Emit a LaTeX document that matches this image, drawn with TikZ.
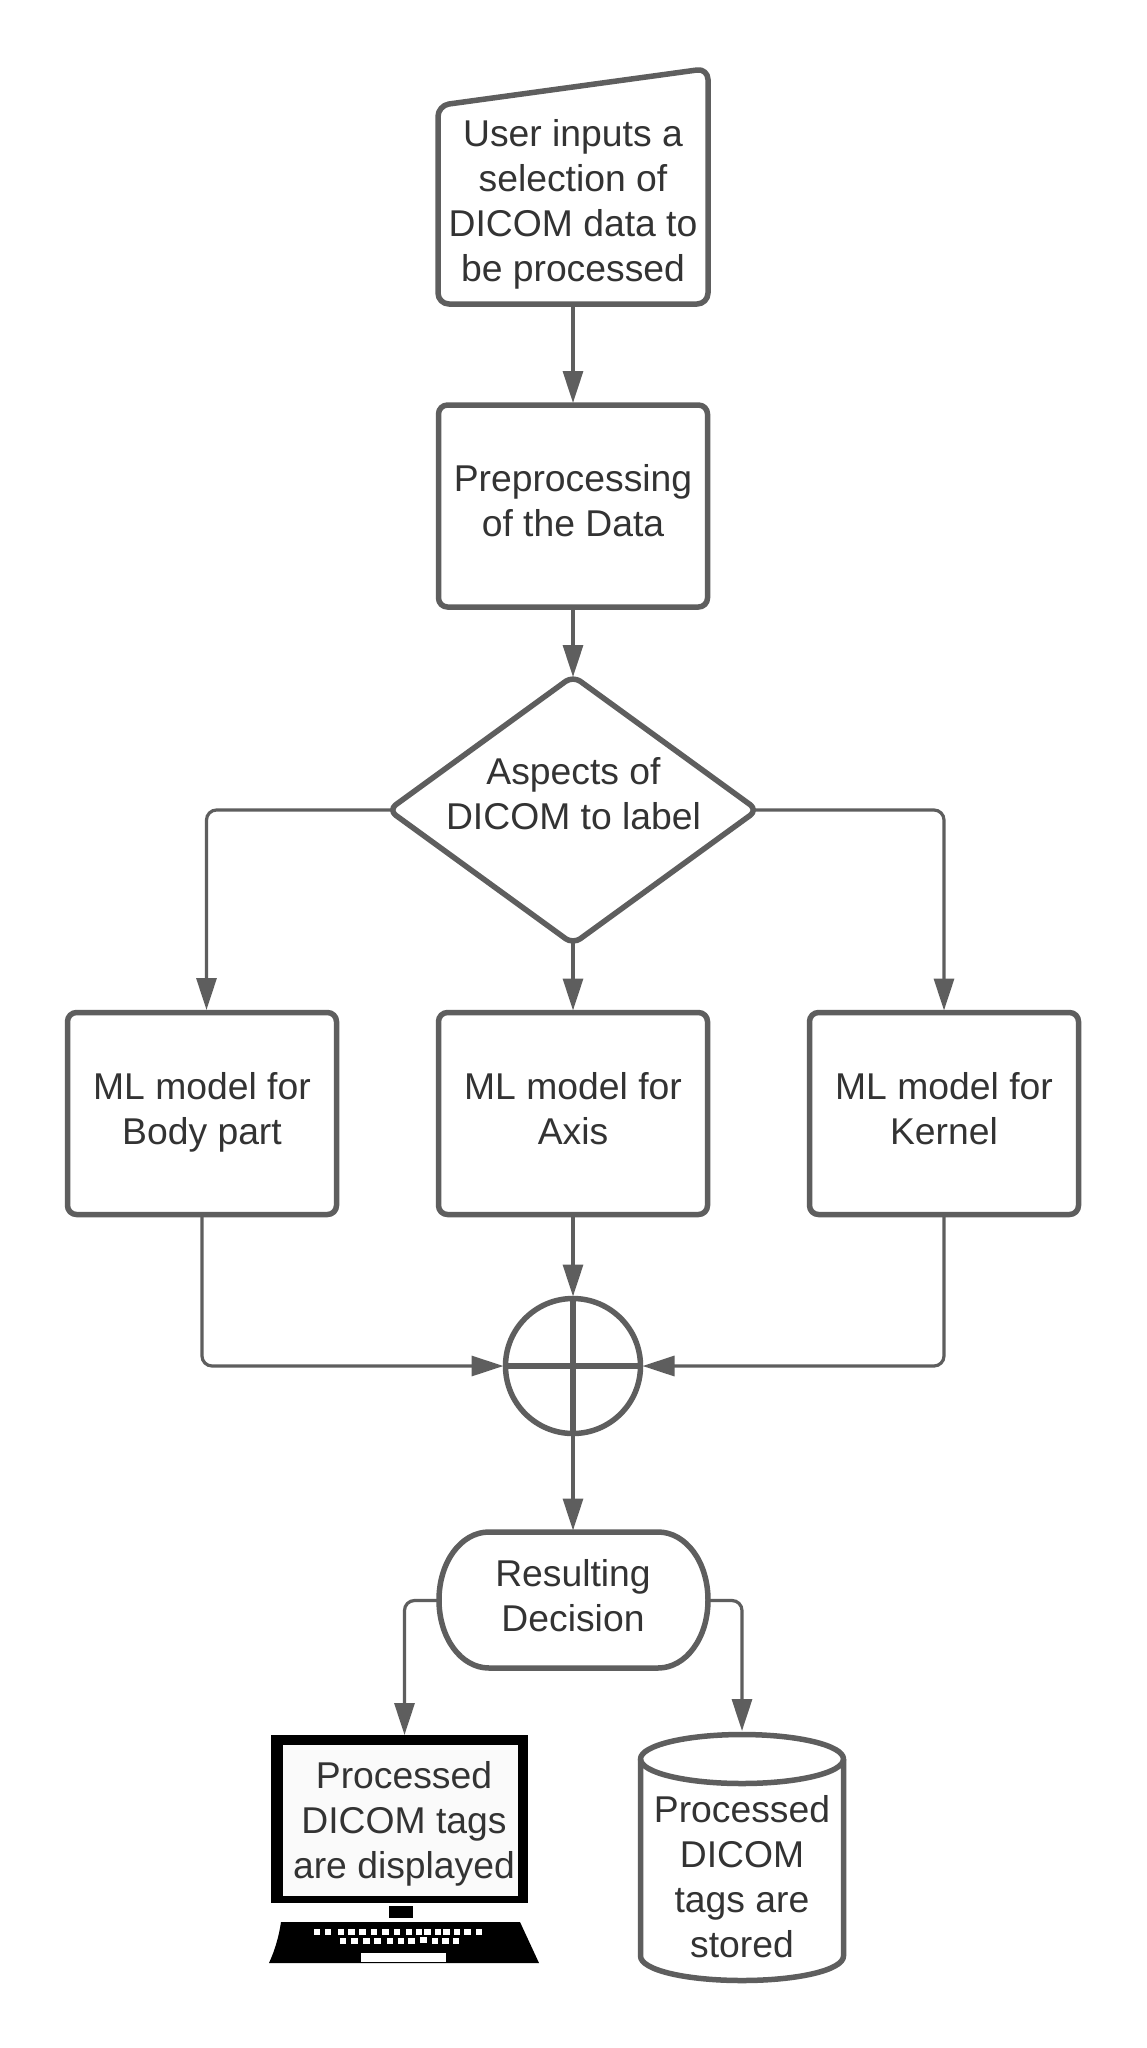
\documentclass[tikz,border=0pt]{standalone}
\usepackage{fontspec}
\setmainfont{Liberation Sans}
\usetikzlibrary{arrows.meta,shapes.geometric,calc}
\definecolor{ln}{HTML}{5E5E5E}
\definecolor{tx}{HTML}{333333}
\newcommand{\lastdp}{\rule[-11pt]{0pt}{11pt}}
\tikzset{
  lbl/.style={font=\fontsize{37.3pt}{45pt}\selectfont,text=tx,align=center,inner sep=0pt,outer sep=0pt},
  shp/.style={draw=ln,line width=5.5pt,line join=round,outer sep=0pt},
  boxn/.style={lbl,shp,rectangle,rounded corners=9pt,minimum width=269pt,minimum height=202pt},
  conn/.style={draw=ln,line width=3.2pt,rounded corners=10pt,-{Triangle[length=32pt,width=20pt]},shorten >=2pt},
  fromdia/.style={conn,shorten <=-5pt},
  keycap/.style={fill=white,draw=none}
}
\begin{document}
\begin{tikzpicture}[x=1pt,y=-1pt]
\useasboundingbox (0,0) rectangle (1147,2048);
\fill[white] (0,0) rectangle (1147,2048);
% manual input
\draw[shp,rounded corners=11pt] (438,105.5) -- (708,68.5) -- (708,304) -- (438,304) -- cycle;
\node[lbl,minimum width=270pt,minimum height=200pt] (input) at (573,204) {User inputs a\\selection of\\DICOM data to\\be processed};
\node[boxn] (prep) at (573,506) {Preprocessing\\of the Data\lastdp};
\node[shp,diamond,rounded corners=9pt,aspect=1.377,minimum width=369pt,minimum height=268pt,inner sep=0pt] (dia) at (573,810) {};
\node[lbl] (dialbl) at (573.5,794) {Aspects of\\DICOM to label};
\node[boxn] (body) at (202,1113.5) {ML model for\\Body part\lastdp};
\node[boxn] (axis) at (573,1113.5) {ML model for\\Axis\lastdp};
\node[boxn] (kern) at (944,1113.5) {ML model for\\Kernel\lastdp};
\node[shp,circle,minimum size=135pt,inner sep=0pt] (sum) at (573,1366) {};
\draw[shp] (sum.north) -- (sum.south);
\draw[shp] (sum.west) -- (sum.east);
% terminator
\draw[shp] (489,1532) -- (658,1532) .. controls (686,1532) and (708,1562) .. (708,1600)
  .. controls (708,1638) and (686,1668) .. (658,1668) -- (489,1668)
  .. controls (461,1668) and (439,1638) .. (439,1600)
  .. controls (439,1562) and (461,1532) .. (489,1532) -- cycle;
\node[lbl,minimum width=270pt,minimum height=136pt] (dec) at (573,1600.5) {Resulting\\Decision\lastdp};
% computer
\node[fill=black,minimum width=257pt,minimum height=168pt,inner sep=0pt,outer sep=0pt] (screen) at (399.5,1819) {};
\node[fill=black!2,minimum width=235pt,minimum height=151pt,inner sep=0pt] (panel) at (400,1820.5) {};
\node[lbl] (shown) at (404,1824) {Processed\\DICOM tags\\are displayed};
\fill[black] (389,1906) rectangle (413,1918);
\fill[black] (281,1922) -- (520,1922) -- (539,1963) -- (269,1963) .. controls (275,1950) and (279,1936) .. (281,1922) -- cycle;
\foreach \k in {181,208,240,265,292,320,348,377,406,430,452,477,498,524,550,578}
  \fill[keycap] ({240+\k/2.45},1929) rectangle ++(6.5,5.5);
\foreach \k in {244,273,302,329,360,387,412,470,496,521}
  \fill[keycap] ({240+\k/2.45},1938) rectangle ++(6.5,5.5);
\fill[keycap] ({240+441/2.45},1937) rectangle ++(6.5,5.5);
\fill[keycap] (361,1953) rectangle (446,1962);
% cylinder
\draw[shp] (640.5,1759) -- (640.5,1956) .. controls (640.5,1970) and (686,1980.5) .. (742,1980.5)
  .. controls (798,1980.5) and (843.5,1970) .. (843.5,1956) -- (843.5,1759);
\draw[shp] (742,1759) ellipse [x radius=101.5pt,y radius=24.5pt];
\node[lbl,minimum width=203pt] (store) at (742,1877) {Processed\\DICOM\\tags are\\stored};
% free ends
\coordinate (shownTop) at (404.5,1737);
\coordinate (storeTop) at (742,1733);
\coordinate (bodyIn) at (206.5,1012);
% connectors
\draw[conn] (input.south) -- (prep.north);
\draw[conn,shorten >=-1pt] (prep.south) -- (dia.north);
\draw[fromdia] (dia.south) -- (axis.north);
\draw[fromdia] (dia.west) -| (bodyIn);
\draw[fromdia] (dia.east) -| (kern.north);
\draw[conn] (axis.south) -- (sum.north);
\draw[conn] (body.south) |- (sum.west);
\draw[conn] (kern.south) |- (sum.east);
\draw[conn] (sum.south) -- (dec.north);
\draw[conn] (dec.west) -| (shownTop);
\draw[conn] (dec.east) -| (storeTop);
\end{tikzpicture}
\end{document}
